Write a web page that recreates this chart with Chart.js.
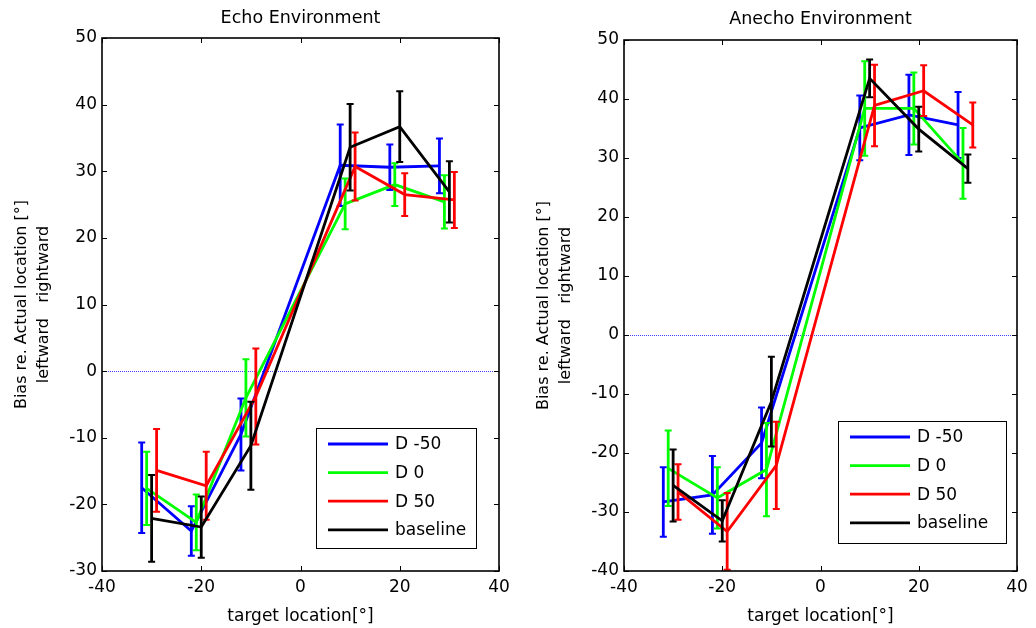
<!DOCTYPE html>
<html><head><meta charset="utf-8">
<script src="https://cdn.jsdelivr.net/npm/chart.js@4.4.1/dist/chart.umd.min.js"></script>
<style>
html,body{margin:0;padding:0;background:#fff;width:1036px;height:628px;overflow:hidden}
canvas{position:absolute;top:0}
#c1{left:0}
#c2{left:520px}
</style></head><body>
<canvas id="c1" width="520" height="628"></canvas>
<canvas id="c2" width="516" height="628"></canvas>
<script>
// ---- data ----
const seriesLabels = ['D -50', 'D 0', 'D 50', 'baseline'];
const seriesColors = ['#0000ff', '#00ff00', '#ff0000', '#000000'];

// horizontal positions (targets, slightly offset per series)
const xBlue  = [-32, -22, -12, 8, 18, 28];
const xGreen = [-31, -21, -11, 9, 19, 29];
const xRed   = [-29, -19, -9, 11, 21, 31];
const xBlack = [-30, -20, -10, 10, 20, 30];

// Echo environment
const echoBlue      = [-17.5, -24.0, -9.5, 30.9, 30.6, 30.8];
const echoBlueErr   = [6.8, 3.7, 5.4, 6.1, 3.4, 4.1];
const echoGreen     = [-17.6, -22.7, -4.0, 25.1, 28.0, 25.4];
const echoGreenErr  = [5.5, 4.2, 5.8, 3.8, 3.2, 4.0];
const echoRed       = [-14.9, -17.2, -3.8, 30.7, 26.5, 25.7];
const echoRedErr    = [6.2, 5.1, 7.2, 5.1, 3.2, 4.2];
const echoBlack     = [-22.1, -23.4, -11.2, 33.6, 36.7, 26.9];
const echoBlackErr  = [6.5, 4.6, 6.6, 6.5, 5.3, 4.6];

// Anecho environment
const anBlue      = [-28.3, -27.1, -18.3, 35.1, 37.3, 35.6];
const anBlueErr   = [5.9, 6.6, 6.0, 5.5, 6.8, 5.6];
const anGreen     = [-22.6, -27.6, -22.8, 38.4, 38.4, 29.1];
const anGreenErr  = [6.4, 5.2, 7.9, 8.0, 6.1, 6.0];
const anRed       = [-26.6, -33.3, -22.1, 38.9, 41.4, 35.6];
const anRedErr    = [4.7, 6.5, 7.4, 6.9, 4.3, 3.8];
const anBlack     = [-25.5, -31.5, -11.3, 43.5, 34.9, 28.2];
const anBlackErr  = [6.1, 3.5, 7.6, 3.2, 3.8, 2.4];

const xMin = -40, xMax = 40, xStep = 20;
const echoYMin = -30, echoYMax = 50;
const anYMin = -40, anYMax = 50;
const yStep = 10;

const xTitle = 'target location[°]';
const yTitle = ['Bias re. Actual location [°]', 'leftward   rightward'];

// ---- rendering ----
Chart.defaults.font.family = '"DejaVu Sans", sans-serif';
Chart.defaults.color = '#000';

function makeDatasets(ys, xs) {
  return ys.map((arr, k) => ({
    label: seriesLabels[k],
    data: xs[k].map((x, i) => ({x: x, y: arr[i]})),
    borderColor: seriesColors[k],
    backgroundColor: seriesColors[k],
    borderWidth: 2.8,
    pointRadius: 0,
    tension: 0,
    fill: false,
    order: 3 - k
  }));
}

const decorPlugin = {
  id: 'decor',
  beforeDatasetsDraw(chart) {
    const {ctx, chartArea: ca, scales: {y}} = chart;
    const py = Math.round(y.getPixelForValue(0)) + 0.5;
    ctx.save();
    ctx.strokeStyle = '#4040ff';
    ctx.lineWidth = 1;
    ctx.setLineDash([1, 1]);
    ctx.beginPath();
    ctx.moveTo(ca.left, py);
    ctx.lineTo(ca.right, py);
    ctx.stroke();
    ctx.restore();
  },
  afterDatasetDraw(chart, args) {
    const errs = chart.options.plugins.decor.errs[args.index];
    const ds = chart.data.datasets[args.index];
    const {ctx, chartArea: ca, scales: {x, y}} = chart;
    ctx.save();
    ctx.beginPath();
    ctx.rect(ca.left, ca.top, ca.right - ca.left, ca.bottom - ca.top);
    ctx.clip();
    ctx.strokeStyle = ds.borderColor;
    ds.data.forEach((p, i) => {
      const px = x.getPixelForValue(p.x);
      const y1 = y.getPixelForValue(p.y + errs[i]);
      const y2 = y.getPixelForValue(p.y - errs[i]);
      ctx.lineWidth = 2.8;
      ctx.beginPath();
      ctx.moveTo(px, y1); ctx.lineTo(px, y2);
      ctx.stroke();
      ctx.lineWidth = 2;
      ctx.beginPath();
      ctx.moveTo(px - 3.5, y1); ctx.lineTo(px + 3.5, y1);
      ctx.moveTo(px - 3.5, y2); ctx.lineTo(px + 3.5, y2);
      ctx.stroke();
    });
    ctx.restore();
  },
  afterDraw(chart) {
    const {ctx, chartArea: ca, scales: {x, y}} = chart;
    const o = chart.options.plugins.decor;
    ctx.save();
    // ticks inward
    ctx.strokeStyle = '#000';
    ctx.lineWidth = 1;
    ctx.beginPath();
    x.ticks.forEach(t => {
      const px = Math.round(x.getPixelForValue(t.value)) + 0.5;
      ctx.moveTo(px, ca.bottom); ctx.lineTo(px, ca.bottom - 5);
      ctx.moveTo(px, ca.top); ctx.lineTo(px, ca.top + 5);
    });
    y.ticks.forEach(t => {
      const py = Math.round(y.getPixelForValue(t.value)) + 0.5;
      ctx.moveTo(ca.left, py); ctx.lineTo(ca.left + 5, py);
      ctx.moveTo(ca.right, py); ctx.lineTo(ca.right - 5, py);
    });
    ctx.stroke();
    // frame
    ctx.lineWidth = 1.6;
    ctx.strokeRect(ca.left, ca.top, ca.right - ca.left, ca.bottom - ca.top);
    // legend
    const bx = ca.right - o.legRight - o.legW;
    const by = ca.bottom - o.legBottom - o.legH;
    ctx.fillStyle = '#fff';
    ctx.fillRect(bx, by, o.legW, o.legH);
    ctx.lineWidth = 1;
    ctx.strokeRect(bx + 0.5, by + 0.5, o.legW, o.legH);
    ctx.font = '17px "DejaVu Sans", sans-serif';
    ctx.textBaseline = 'middle';
    ctx.textAlign = 'left';
    seriesLabels.forEach((lab, k) => {
      const ry = by + 16 + k * 28.6;
      ctx.strokeStyle = seriesColors[k];
      ctx.lineWidth = 2.8;
      ctx.beginPath();
      ctx.moveTo(bx + 12, ry); ctx.lineTo(bx + 72, ry);
      ctx.stroke();
      ctx.fillStyle = '#000';
      ctx.fillText(lab, bx + 79, ry + 1);
    });
    ctx.restore();
  }
};

function makeChart(id, title, ys, errs, yMin, yMax, cfg) {
  return new Chart(document.getElementById(id), {
    type: 'line',
    data: {datasets: makeDatasets(ys, [xBlue, xGreen, xRed, xBlack])},
    options: {
      responsive: false,
      animation: false,
      devicePixelRatio: 1,
      layout: {padding: {left: 0, right: cfg.padRight, top: 0, bottom: 0}},
      plugins: {
        legend: {display: false},
        tooltip: {enabled: false},
        title: {display: true, text: title, fullSize: false, font: {size: 17.5, weight: 'normal'},
                padding: {top: cfg.titleTop, bottom: cfg.titleBottom}},
        decor: {errs: errs, legW: cfg.legW, legH: cfg.legH, legRight: cfg.legRight, legBottom: cfg.legBottom}
      },
      scales: {
        x: {
          type: 'linear', min: xMin, max: xMax,
          grid: {display: false, drawTicks: false},
          border: {display: false},
          ticks: {stepSize: xStep, font: {size: 17}, padding: 6, maxRotation: 0},
          title: {display: true, text: xTitle, font: {size: 17}, padding: {top: 0, bottom: 1}},
          afterFit(s) { s.height = 57; }
        },
        y: {
          type: 'linear', min: yMin, max: yMax,
          grid: {display: false, drawTicks: false},
          border: {display: false},
          ticks: {stepSize: yStep, font: {size: 17}, padding: 5},
          title: {display: true, text: yTitle, font: {size: 16, lineHeight: 1.375},
                  padding: {top: cfg.yTitlePad, bottom: 0}},
          afterFit(s) { s.width = cfg.yWidth; }
        }
      }
    },
    plugins: [decorPlugin]
  });
}

makeChart('c1', 'Echo Environment',
  [echoBlue, echoGreen, echoRed, echoBlack],
  [echoBlueErr, echoGreenErr, echoRedErr, echoBlackErr],
  echoYMin, echoYMax,
  {padRight: 21, titleTop: 8, titleBottom: 9, yWidth: 102, yTitlePad: 11,
   legW: 160, legH: 120, legRight: 23, legBottom: 23});

makeChart('c2', 'Anecho Environment',
  [anBlue, anGreen, anRed, anBlack],
  [anBlueErr, anGreenErr, anRedErr, anBlackErr],
  anYMin, anYMax,
  {padRight: 19, titleTop: 9, titleBottom: 10, yWidth: 104, yTitlePad: 13,
   legW: 168, legH: 122, legRight: 11, legBottom: 28});
</script>
</body></html>
